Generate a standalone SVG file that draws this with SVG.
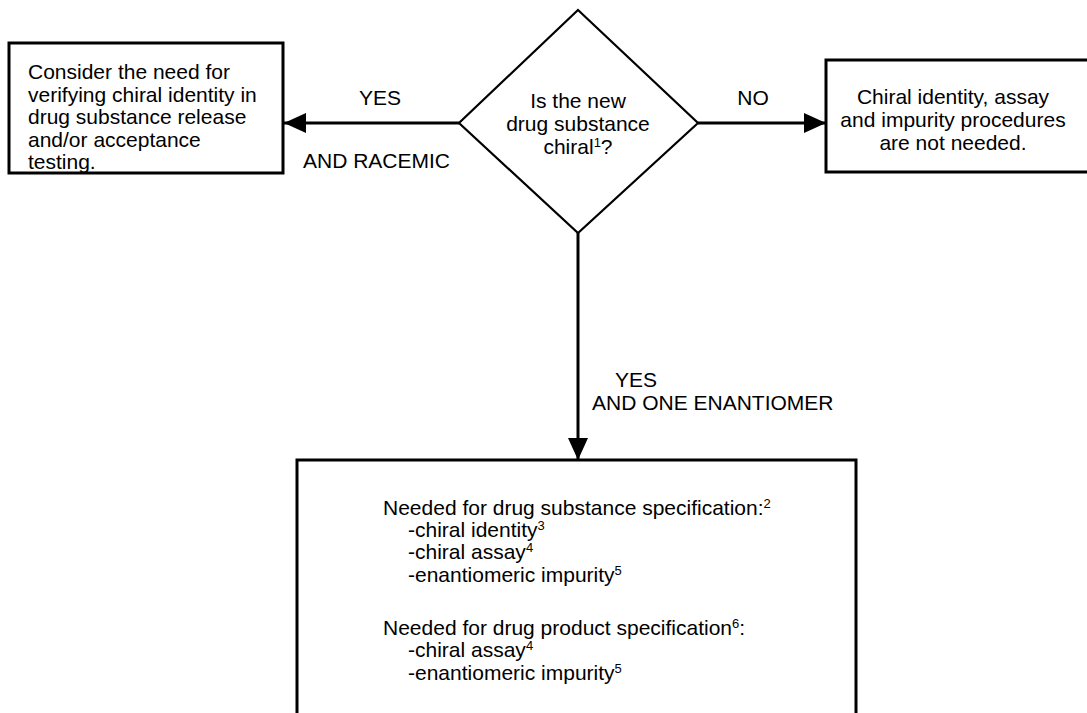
<svg xmlns="http://www.w3.org/2000/svg" width="1087" height="713" viewBox="0 0 1087 713">
<defs>
<style>
text{font-family:"Liberation Sans",Arial,sans-serif;font-size:21px;fill:#000}
.box{fill:#fff;stroke:#000;stroke-width:3}
.dia{fill:#fff;stroke:#000;stroke-width:2.2}
.conn{stroke:#000;stroke-width:3;fill:none}
.sup{font-size:13px}
.mid{text-anchor:middle}
</style>
<marker id="ah" viewBox="0 0 22 20" refX="22" refY="10" markerWidth="22" markerHeight="20" markerUnits="userSpaceOnUse" orient="auto">
<path d="M0,0 L22,10 L0,20 Z" fill="#000"/>
</marker>
</defs>
<rect width="1087" height="713" fill="#fff"/>
<g id="connectors">
<line class="conn" x1="459" y1="123" x2="284" y2="123" marker-end="url(#ah)"/>
<line class="conn" x1="698" y1="123" x2="826" y2="123" marker-end="url(#ah)"/>
<line class="conn" x1="578" y1="233" x2="578" y2="460" marker-end="url(#ah)"/>
<text x="380" y="105" class="mid">YES</text>
<text x="303" y="168">AND RACEMIC</text>
<text x="753" y="105" class="mid">NO</text>
<text x="636" y="387" class="mid">YES</text>
<text x="592" y="410">AND ONE ENANTIOMER</text>
</g>
<g id="decision">
<polygon class="dia" points="578,10 698,123 578,233 459,123"/>
<text x="578" y="108" class="mid">Is the new</text>
<text x="578" y="131" class="mid">drug substance</text>
<text x="578" y="154" class="mid">chiral<tspan class="sup" dy="-7">1</tspan><tspan dy="7">?</tspan></text>
</g>
<g id="racemic-box">
<rect class="box" x="9" y="43" width="274" height="130"/>
<text x="28" y="79">Consider the need for</text>
<text x="28" y="102">verifying chiral identity in</text>
<text x="28" y="124">drug substance release</text>
<text x="28" y="147">and/or acceptance</text>
<text x="28" y="169">testing.</text>
</g>
<g id="achiral-box">
<rect class="box" x="826" y="60" width="270" height="112"/>
<text x="953" y="104" class="mid">Chiral identity, assay</text>
<text x="953" y="127" class="mid">and impurity procedures</text>
<text x="953" y="150" class="mid">are not needed.</text>
</g>
<g id="enantiomer-box">
<rect class="box" x="297" y="460" width="559" height="270"/>
<text x="383" y="515">Needed for drug substance specification:<tspan class="sup" dy="-7">2</tspan></text>
<text x="408" y="537">-chiral identity<tspan class="sup" dy="-7">3</tspan></text>
<text x="408" y="559">-chiral assay<tspan class="sup" dy="-7">4</tspan></text>
<text x="408" y="582">-enantiomeric impurity<tspan class="sup" dy="-7">5</tspan></text>
<text x="383" y="635">Needed for drug product specification<tspan class="sup" dy="-7">6</tspan><tspan dy="7">:</tspan></text>
<text x="408" y="657">-chiral assay<tspan class="sup" dy="-7">4</tspan></text>
<text x="408" y="680">-enantiomeric impurity<tspan class="sup" dy="-7">5</tspan></text>
</g>
</svg>
